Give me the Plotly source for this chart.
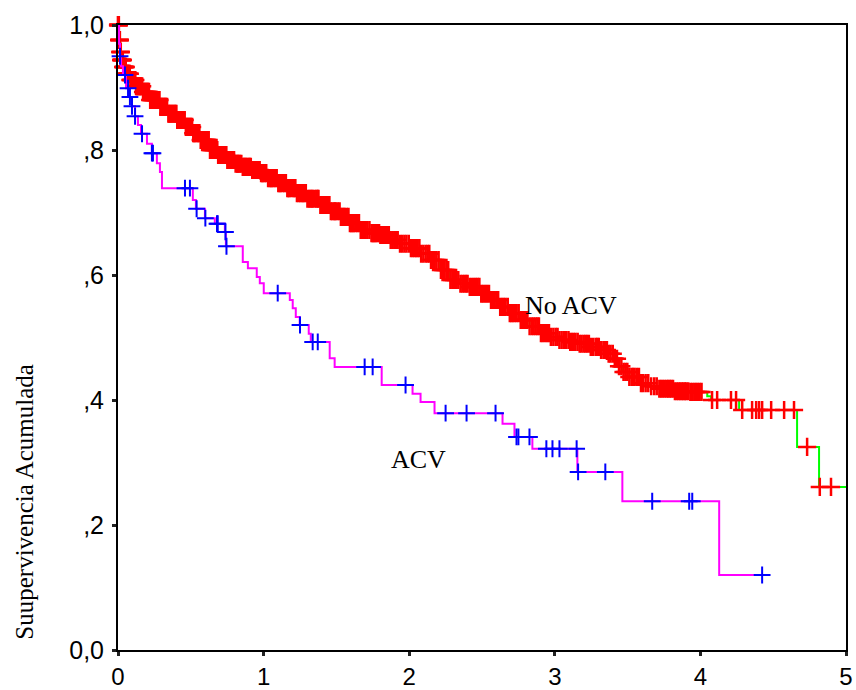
import numpy as np
import plotly.graph_objects as go

# ---------------- data (years, cumulative survival) ----------------
# No ACV group: step times and survival level after each step
noacv_t = [0.0, 0.007, 0.014, 0.021, 0.034, 0.055, 0.082, 0.123, 0.171, 0.219,
           0.288, 0.343, 0.405, 0.46, 0.514, 0.562, 0.631, 0.686, 0.748, 0.802,
           0.857, 0.919, 0.974, 1.029, 1.091, 1.159, 1.228, 1.296, 1.385, 1.454,
           1.523, 1.591, 1.66, 1.728, 1.797, 1.866, 1.934, 2.003, 2.071, 2.14,
           2.209, 2.277, 2.346, 2.414, 2.483, 2.551, 2.62, 2.689, 2.757, 2.826,
           2.894, 2.963, 3.032, 3.1, 3.169, 3.237, 3.306, 3.361, 3.409, 3.436,
           3.464, 3.512, 3.58, 3.649, 3.717, 3.82, 3.923, 4.047, 4.074, 4.266,
           4.664, 4.815]
noacv_s = [1.0, 0.976, 0.957, 0.944, 0.933, 0.922, 0.912, 0.902, 0.893, 0.88,
           0.869, 0.858, 0.848, 0.837, 0.827, 0.816, 0.80, 0.792, 0.784, 0.778,
           0.773, 0.768, 0.763, 0.755, 0.747, 0.739, 0.731, 0.722, 0.712, 0.702,
           0.693, 0.683, 0.672, 0.667, 0.664, 0.656, 0.65, 0.643, 0.634, 0.624,
           0.608, 0.592, 0.586, 0.581, 0.57, 0.56, 0.549, 0.539, 0.528, 0.518,
           0.507, 0.501, 0.496, 0.493, 0.49, 0.485, 0.48, 0.474, 0.466, 0.454,
           0.445, 0.437, 0.427, 0.422, 0.418, 0.414, 0.413, 0.406, 0.40, 0.384,
           0.325, 0.261]
noacv_end = 5.0
noacv_cens = [0.0, 0.001, 0.002, 0.003, 0.004, 0.005, 0.006, 0.008, 0.009, 0.011,
              0.012, 0.013, 0.016, 0.018, 0.019, 0.022, 0.023, 0.026, 0.027, 0.029,
              0.031, 0.033, 0.036, 0.039, 0.041, 0.044, 0.047, 0.05, 0.053, 0.057,
              0.061, 0.064, 0.068, 0.072, 0.077, 0.081, 0.085, 0.09, 0.094, 0.099,
              0.104, 0.108, 0.113, 0.119, 0.124, 0.128, 0.133, 0.139, 0.146, 0.15,
              0.154, 0.16, 0.166, 0.172, 0.178, 0.183, 0.189, 0.195, 0.201, 0.207,
              0.213, 0.221, 0.228, 0.233, 0.239, 0.246, 0.252, 0.258, 0.263, 0.271,
              0.279, 0.285, 0.291, 0.297, 0.302, 0.31, 0.317, 0.323, 0.329, 0.337,
              0.346, 0.351, 0.358, 0.366, 0.373, 0.381, 0.388, 0.395, 0.401, 0.407,
              0.413, 0.422, 0.432, 0.438, 0.444, 0.451, 0.458, 0.466, 0.472, 0.479,
              0.487, 0.494, 0.501, 0.509, 0.517, 0.522, 0.528, 0.537, 0.546, 0.552,
              0.559, 0.568, 0.577, 0.583, 0.588, 0.596, 0.603, 0.609, 0.614, 0.623,
              0.632, 0.64, 0.647, 0.655, 0.661, 0.669, 0.676, 0.682, 0.688, 0.698,
              0.707, 0.712, 0.718, 0.728, 0.737, 0.744, 0.751, 0.757, 0.763, 0.772,
              0.782, 0.79, 0.797, 0.808, 0.818, 0.823, 0.829, 0.838, 0.847, 0.857,
              0.866, 0.872, 0.878, 0.888, 0.897, 0.905, 0.912, 0.922, 0.933, 0.941,
              0.948, 0.955, 0.962, 0.973, 0.983, 0.991, 0.998, 1.008, 1.018, 1.031,
              1.043, 1.051, 1.058, 1.068, 1.079, 1.09, 1.101, 1.11, 1.118, 1.131,
              1.142, 1.153, 1.163, 1.171, 1.177, 1.19, 1.203, 1.211, 1.218, 1.229,
              1.241, 1.252, 1.262, 1.271, 1.279, 1.29, 1.301, 1.312, 1.322, 1.33,
              1.338, 1.351, 1.363, 1.371, 1.377, 1.39, 1.402, 1.41, 1.418, 1.43,
              1.441, 1.452, 1.462, 1.472, 1.483, 1.49, 1.497, 1.51, 1.522, 1.531,
              1.541, 1.55, 1.558, 1.571, 1.583, 1.593, 1.602, 1.611, 1.619, 1.631,
              1.643, 1.655, 1.667, 1.678, 1.689, 1.701, 1.713, 1.727, 1.741, 1.749,
              1.756, 1.764, 1.772, 1.782, 1.793, 1.802, 1.812, 1.82, 1.828, 1.838,
              1.847, 1.86, 1.873, 1.886, 1.898, 1.91, 1.921, 1.937, 1.952, 1.967,
              1.981, 1.997, 2.012, 2.025, 2.037, 2.048, 2.058, 2.07, 2.082, 2.097,
              2.113, 2.126, 2.138, 2.15, 2.162, 2.175, 2.187, 2.202, 2.218, 2.231,
              2.243, 2.256, 2.268, 2.283, 2.296, 2.309, 2.321, 2.337, 2.352, 2.365,
              2.378, 2.39, 2.401, 2.416, 2.431, 2.445, 2.458, 2.47, 2.482, 2.495,
              2.507, 2.521, 2.534, 2.548, 2.562, 2.575, 2.587, 2.599, 2.611, 2.625,
              2.638, 2.65, 2.662, 2.677, 2.691, 2.702, 2.712, 2.725, 2.738, 2.752,
              2.766, 2.778, 2.789, 2.801, 2.812, 2.827, 2.842, 2.855, 2.868, 2.88,
              2.891, 2.905, 2.918, 2.933, 2.947, 2.96, 2.973, 2.99, 3.006, 3.019,
              3.032, 3.047, 3.062, 3.078, 3.094, 3.106, 3.118, 3.13, 3.142, 3.157,
              3.171, 3.184, 3.198, 3.21, 3.221, 3.234, 3.247, 3.264, 3.281, 3.292,
              3.302, 3.318, 3.334, 3.346, 3.358, 3.37, 3.383, 3.398, 3.412, 3.427,
              3.441, 3.457, 3.472, 3.485, 3.498, 3.512, 3.527, 3.538, 3.548, 3.563,
              3.578, 3.592, 3.606, 3.624, 3.642, 3.662, 3.683, 3.7, 3.718, 3.73,
              3.742, 3.755, 3.768, 3.779, 3.789, 3.8, 3.812, 3.825, 3.838, 3.85,
              3.861, 3.872, 3.883, 3.893, 3.902, 3.916, 3.931, 3.944, 3.958, 3.97,
              3.982, 3.995, 4.008, 4.08, 4.115, 4.21, 4.245, 4.287, 4.355, 4.383,
              4.403, 4.424, 4.486, 4.575, 4.643, 4.733, 4.82, 4.897]

# ACV group
acv_t = [0.0, 0.007, 0.014, 0.021, 0.034, 0.055, 0.075, 0.096, 0.117, 0.137,
         0.158, 0.199, 0.233, 0.267, 0.288, 0.302, 0.514, 0.535, 0.597, 0.665,
         0.734, 0.741, 0.857, 0.892, 0.953, 0.974, 1.001, 1.180, 1.200, 1.221,
         1.248, 1.310, 1.324, 1.454, 1.488, 1.811, 2.023, 2.078, 2.174, 2.641,
         2.723, 2.846, 3.155, 3.464, 4.129]
acv_s = [1.0, 0.970, 0.950, 0.934, 0.920, 0.899, 0.885, 0.870, 0.854, 0.840,
         0.826, 0.810, 0.795, 0.779, 0.765, 0.739, 0.720, 0.706, 0.691, 0.682,
         0.669, 0.646, 0.621, 0.611, 0.597, 0.587, 0.571, 0.560, 0.547, 0.533,
         0.520, 0.506, 0.493, 0.467, 0.453, 0.424, 0.410, 0.397, 0.379, 0.362,
         0.341, 0.322, 0.285, 0.238, 0.120]
acv_end = 4.47
acv_cens = [0.014, 0.048, 0.069, 0.082, 0.096, 0.117, 0.165, 0.233, 0.24, 0.46,
            0.494, 0.54, 0.60, 0.68, 0.685, 0.738, 0.745, 1.097, 1.25, 1.337,
            1.372, 1.694, 1.749, 1.975, 2.25, 2.394, 2.593, 2.737, 2.75, 2.826,
            2.942, 2.984, 3.032, 3.15, 3.16, 3.347, 3.669, 3.923, 3.944, 4.424]

y_ticks = [0.0, 0.2, 0.4, 0.6, 0.8, 1.0]
y_tick_text = ["0,0", ",2", ",4", ",6", ",8", "1,0"]
x_ticks = [0, 1, 2, 3, 4, 5]


def surv_at(times, surv, c):
    idx = np.searchsorted(np.asarray(times), np.asarray(c), side="right") - 1
    return np.asarray(surv)[idx]


fig = go.Figure()

# No ACV step line (green) + censor marks (red)
fig.add_trace(go.Scatter(x=noacv_t + [noacv_end], y=noacv_s + [noacv_s[-1]],
                         mode="lines", line=dict(color="#00FF00", width=2, shape="hv"),
                         cliponaxis=False, showlegend=False, hoverinfo="skip"))
fig.add_trace(go.Scatter(x=noacv_cens, y=surv_at(noacv_t, noacv_s, noacv_cens),
                         mode="markers", cliponaxis=False,
                         marker=dict(symbol="cross-thin", size=13,
                                     line=dict(color="#FF0000", width=2.5)),
                         showlegend=False))

# ACV step line (magenta) + censor marks (blue)
fig.add_trace(go.Scatter(x=acv_t + [acv_end], y=acv_s + [acv_s[-1]],
                         mode="lines", line=dict(color="#FF00FF", width=2, shape="hv"),
                         showlegend=False, hoverinfo="skip"))
fig.add_trace(go.Scatter(x=acv_cens, y=surv_at(acv_t, acv_s, acv_cens),
                         mode="markers", cliponaxis=False,
                         marker=dict(symbol="cross-thin", size=12,
                                     line=dict(color="#0000FF", width=2)),
                         showlegend=False))

fig.add_annotation(x=3.114, y=0.552, text="No ACV", showarrow=False,
                   font=dict(family="Liberation Serif, Times New Roman, serif", size=26, color="black"))
fig.add_annotation(x=2.064, y=0.305, text="ACV", showarrow=False,
                   font=dict(family="Liberation Serif, Times New Roman, serif", size=26, color="black"))
fig.add_annotation(xref="paper", yref="paper", x=-0.128, y=0.237, text="Suupervivencia Acumulada",
                   textangle=-90, showarrow=False, xanchor="center", yanchor="middle",
                   font=dict(family="Liberation Serif, Times New Roman, serif", size=25, color="black"))

fig.update_layout(
    width=856, height=690,
    margin=dict(l=118, r=10, t=25, b=40),
    paper_bgcolor="white", plot_bgcolor="white",
    xaxis=dict(range=[0, 5], tickvals=x_ticks, ticktext=[str(v) for v in x_ticks],
               automargin=False,
               showgrid=False, zeroline=False, showline=True, linecolor="black", linewidth=2,
               mirror=True, ticks="outside", ticklen=4, tickwidth=3, tickcolor="#222",
               tickfont=dict(family="Liberation Sans, Arial, sans-serif",
                             size=24, color="black")),
    yaxis=dict(range=[0, 1], tickvals=y_ticks, ticktext=y_tick_text,
               automargin=False, ticklabelstandoff=3,
               showgrid=False, zeroline=False, showline=True, linecolor="black", linewidth=2,
               mirror=True, ticks="outside", ticklen=4, tickwidth=3, tickcolor="#222",
               tickfont=dict(family="Liberation Sans, Arial, sans-serif", size=25, color="black")),
)

fig.write_html("out.html")
